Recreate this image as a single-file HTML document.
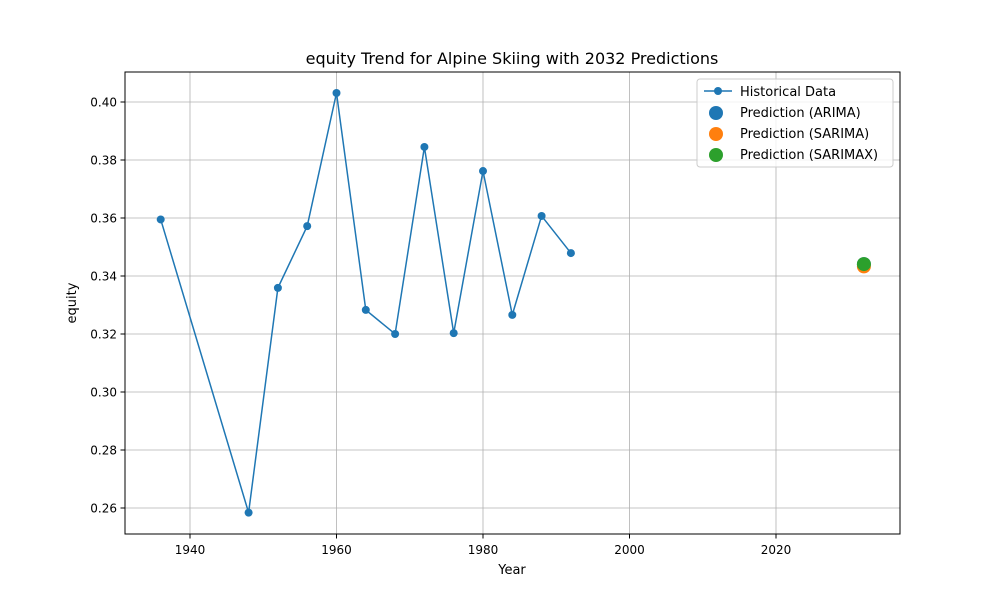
<!DOCTYPE html>
<html><head><meta charset="utf-8"><style>
body{margin:0;background:#fff;font-family:"Liberation Sans","DejaVu Sans",sans-serif}
</style></head><body>
<svg id="chart" width="1000" height="600" xmlns="http://www.w3.org/2000/svg" font-family="DejaVu Sans, Liberation Sans, sans-serif">
<rect width="1000" height="600" fill="#fff"/>
<g id="grid"></g>
<g id="axes"></g>
<g id="marks"></g>
<rect x="125" y="72" width="775" height="462" fill="none" stroke="#000" stroke-width="1"/>
<text x="512" y="64" text-anchor="middle" font-size="16">equity Trend for Alpine Skiing with 2032 Predictions</text>
<text x="512" y="574" text-anchor="middle" font-size="13">Year</text>
<text x="76" y="303" text-anchor="middle" font-size="13" transform="rotate(-90 76 303)">equity</text>
<g>
<rect x="697" y="79" width="196" height="88" rx="3" fill="#fff" fill-opacity="0.8" stroke="#ccc"/>
<g><line x1="704" y1="91" x2="732" y2="91" stroke="#1f77b4" stroke-width="1.5"/><circle cx="718" cy="91" r="4" fill="#1f77b4"/><text x="740" y="96" font-size="13">Historical Data</text></g>
<g><circle cx="716" cy="113" r="7" fill="#1f77b4"/><text x="740" y="117" font-size="13">Prediction (ARIMA)</text></g>
<g><circle cx="716" cy="134" r="7" fill="#ff7f0e"/><text x="740" y="138" font-size="13">Prediction (SARIMA)</text></g>
<g><circle cx="716" cy="155" r="7" fill="#2ca02c"/><text x="740" y="159" font-size="13">Prediction (SARIMAX)</text></g>
</g>
</svg>
<script>
const years=[1936,1948,1952,1956,1960,1964,1968,1972,1976,1980,1984,1988,1992];
const equity=[0.3595,0.2584,0.3359,0.3572,0.4031,0.3283,0.3200,0.3845,0.3203,0.3762,0.3266,0.3607,0.3479];
const predYear=2032;
const predArima=[0.3441];
const predSarima=[0.3433];
const predSarimax=[0.3441];
const xTicks=[1940,1960,1980,2000,2020];
const yTicks=[0.26,0.28,0.30,0.32,0.34,0.36,0.38,0.40];
const NS="http://www.w3.org/2000/svg";
const X=v=>190+(v-1940)*586/80;
const Y=v=>102+(0.40-v)*2900;
function mk(t,a,p){const e=document.createElementNS(NS,t);for(const k in a)e.setAttribute(k,a[k]);p.appendChild(e);return e;}
const grid=document.getElementById('grid'),axes=document.getElementById('axes'),marks=document.getElementById('marks');
xTicks.forEach(t=>{const x=X(t);
 const g=mk('line',{x1:x,x2:x,y1:72,y2:534,stroke:'#b0b0b0','stroke-width':0.8},grid);
 
 
 mk('line',{x1:x,x2:x,y1:534,y2:538.5,stroke:'#000'},axes);
 const l=mk('text',{x:x,y:554,'text-anchor':'middle','font-size':12},axes);l.textContent=t;
 
 });
yTicks.forEach(t=>{const y=Y(t);
 const g=mk('line',{x1:125,x2:900,y1:y,y2:y,stroke:'#b0b0b0','stroke-width':0.8},grid);
 
 
 mk('line',{x1:120.5,x2:125,y1:y,y2:y,stroke:'#000'},axes);
 const l=mk('text',{x:117,y:y+4.5,'text-anchor':'end','font-size':12},axes);l.textContent=t.toFixed(2);
 
 });
const pl=mk('polyline',{points:years.map((y,i)=>X(y)+','+Y(equity[i])).join(' '),fill:'none',stroke:'#1f77b4','stroke-width':1.5},marks);


years.forEach((y,i)=>{const c=mk('circle',{cx:X(y),cy:Y(equity[i]),r:4,fill:'#1f77b4'},marks);
 
 });
[[predArima,'#1f77b4','prediction-arima'],[predSarima,'#ff7f0e','prediction-sarima'],[predSarimax,'#2ca02c','prediction-sarimax']].forEach(([arr,col,n])=>{
 arr.forEach(v=>{const c=mk('circle',{cx:X(predYear),cy:Y(v),r:7,fill:col},marks);
 
 });});
</script>
</body></html>
